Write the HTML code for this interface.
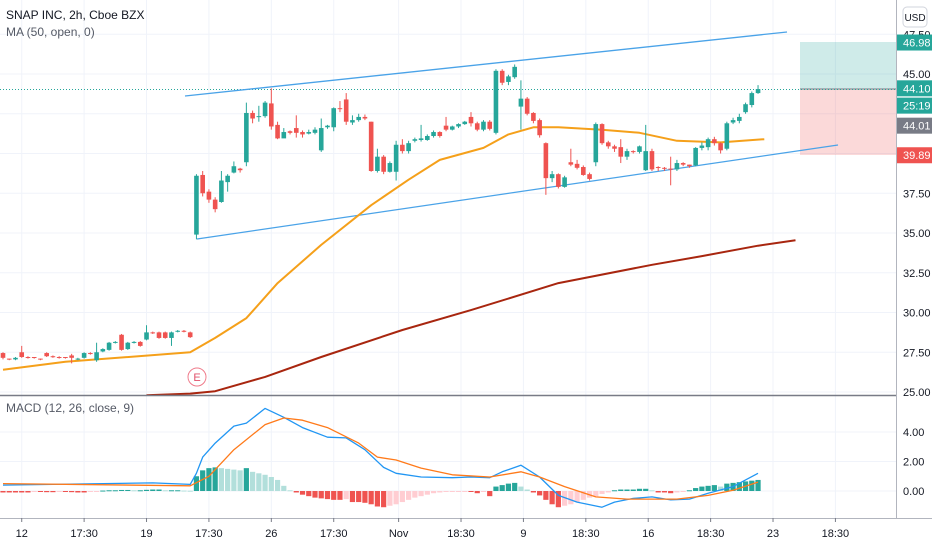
<!DOCTYPE html>
<html><head><meta charset="utf-8">
<style>
html,body{margin:0;padding:0;background:#fff;}
svg{display:block;font-family:"Liberation Sans",sans-serif;}
</style></head>
<body>
<svg id="chart" width="932" height="550" viewBox="0 0 932 550" xmlns="http://www.w3.org/2000/svg">
  <rect x="0" y="0" width="932" height="550" fill="#ffffff"/>
  <g id="grid"></g>
  <g id="panels">
    <rect x="800" y="42" width="96" height="47" fill="#26a69a" fill-opacity="0.22"/>
    <rect x="800" y="89" width="96" height="66" fill="#ef5350" fill-opacity="0.22"/>
    <line x1="800" y1="89" x2="896" y2="89" stroke="#787b86" stroke-width="1"/>
  </g>
  <line x1="0" y1="89.5" x2="896" y2="89.5" stroke="#26a69a" stroke-dasharray="1,2"/>
  <g id="channel">
    <line x1="185" y1="96" x2="787" y2="32" stroke="#4aa3e8" stroke-width="1.3"/>
    <line x1="197" y1="239" x2="838" y2="145" stroke="#4aa3e8" stroke-width="1.3"/>
  </g>
  <defs><clipPath id="mainClip"><rect x="0" y="0" width="896" height="395"/></clipPath></defs>
  <g id="mas" clip-path="url(#mainClip)"></g>
  <g id="candles"></g>
  <g>
    <circle cx="197" cy="377" r="9" fill="#fff" stroke="#ef7a8a" stroke-width="1"/>
    <text x="197" y="381" font-size="11" fill="#e0506a" text-anchor="middle">E</text>
  </g>
  <g id="macd"></g>
  <line x1="0" y1="395.5" x2="896" y2="395.5" stroke="#787b86" stroke-width="1.5"/>
  <line x1="0" y1="518.5" x2="932" y2="518.5" stroke="#b2b5be" stroke-width="1"/>
  <line x1="896.5" y1="0" x2="896.5" y2="518" stroke="#b2b5be" stroke-width="1"/>
  <g id="axes"></g>
  <g>
    <text x="6" y="19" font-size="12" fill="#131722">SNAP INC, 2h, Cboe BZX</text>
    <text x="6" y="36" font-size="12" fill="#555a66">MA (50, open, 0)</text>
    <text x="6" y="412" font-size="12" fill="#555a66">MACD (12, 26, close, 9)</text>
  </g>
  <g>
    <rect x="903" y="7" width="24" height="20" rx="4" fill="#fff" stroke="#d1d4dc"/>
    <text x="915" y="21" font-size="10" fill="#131722" text-anchor="middle">USD</text>
  </g>
  <g id="badges"></g>
</svg>
<script>
const opens=[27.45,27.1,27.05,27.5,27.2,27.2,27.1,27.45,27.25,27.2,27.2,27.3,27.05,27.15,27.45,27.0,27.55,27.65,28.1,28.6,27.7,28.1,28.15,28.3,28.75,28.75,28.75,28.4,28.8,28.85,28.75,
34.9,38.65,37.6,37.1,36.95,38.2,38.8,39.05,39.45,42.55,42.3,42.35,43.15,41.8,40.95,41.4,41.6,41.35,41.25,41.3,40.2,41.65,41.65,42.85,43.4,41.95,42.1,42.3,42.0,38.9,
39.8,38.85,38.85,40.55,40.15,40.8,40.85,40.85,41.1,41.35,41.75,41.5,41.7,41.85,42.3,41.9,41.5,42.0,41.3,45.2,44.5,44.8,42.95,43.45,42.55,42.1,40.65,38.45,38.7,37.9,
39.45,39.35,39.15,38.7,39.45,41.85,40.7,40.45,40.4,39.8,40.15,40.1,38.95,40.15,39.15,39.1,39.05,39.0,39.4,39.3,39.25,40.35,40.4,40.9,40.65,40.3,41.95,42.05,42.6,43.05,43.8];
const closes=[27.15,27.05,27.15,27.2,27.15,27.15,27.05,27.25,27.2,27.15,27.15,27.15,27.1,27.45,27.4,27.5,27.7,28.1,28.15,27.65,28.1,28.15,27.9,28.75,28.7,28.4,28.4,28.75,28.85,28.8,28.45,
38.6,37.5,37.1,36.5,38.3,38.6,39.2,38.95,42.55,42.2,42.35,43.2,41.7,40.95,41.35,41.3,41.3,41.2,41.35,41.5,41.6,41.75,42.85,42.8,42.0,42.1,42.3,42.2,38.9,39.8,
38.85,39.4,40.55,40.15,40.65,40.9,40.95,41.1,41.35,41.1,41.5,41.7,41.85,42.0,41.9,41.5,42.0,41.55,45.2,44.45,44.85,45.45,43.45,42.5,42.05,41.15,38.45,38.7,37.9,38.5,
39.3,39.1,38.65,38.4,41.85,40.65,40.45,40.3,39.8,40.15,40.1,40.45,40.15,39.0,39.1,39.05,39.0,39.4,39.3,39.2,40.35,40.5,40.9,40.65,40.2,41.9,42.1,42.3,43.1,43.8,44.05];
const highs=[27.5,27.1,27.2,27.9,27.25,27.2,27.1,27.5,27.3,27.25,27.2,27.4,27.15,27.5,27.5,28.1,27.75,28.15,28.2,28.65,28.15,28.2,28.2,29.2,28.8,28.8,28.8,28.8,28.9,28.9,28.8,
38.7,38.9,37.75,37.25,38.9,38.7,39.5,39.1,43.2,42.7,43.0,43.3,44.1,42.0,41.6,41.45,42.4,41.45,41.5,41.65,42.2,41.8,42.9,43.3,43.8,42.4,42.5,42.45,42.0,40.3,
39.9,39.5,40.8,40.9,40.8,41.0,41.8,41.2,41.45,41.4,42.3,41.75,41.9,42.05,42.6,42.0,42.1,42.1,45.3,45.3,44.95,45.6,44.6,43.55,42.6,42.2,40.7,38.9,38.75,38.6,
40.3,39.6,39.25,38.8,41.95,41.9,40.8,40.55,40.9,40.3,40.2,40.5,41.8,40.3,39.2,39.15,39.8,39.6,39.45,39.3,40.4,40.7,41.0,41.05,40.7,42.0,42.25,42.5,43.2,43.9,44.3];
const lows=[27.05,27.0,27.0,27.15,27.1,27.1,27.0,27.2,27.15,27.1,27.1,26.8,27.0,27.1,27.35,26.9,27.5,27.6,28.05,27.6,27.65,28.05,27.85,28.25,28.65,28.35,28.35,27.9,28.75,28.75,28.4,
34.6,37.3,36.9,36.3,36.9,37.6,38.75,38.8,39.2,41.9,42.0,42.25,41.5,40.9,41.2,41.2,41.0,41.0,41.2,41.2,40.1,41.55,41.4,42.6,41.8,41.8,42.0,42.1,38.85,38.8,
38.7,38.8,38.3,40.0,40.0,40.7,40.75,40.8,41.0,41.0,41.4,41.45,41.6,41.8,41.7,41.4,41.4,41.45,41.2,44.3,44.3,44.7,41.5,42.4,41.9,41.0,37.4,38.2,37.8,37.85,
39.2,39.0,38.6,38.3,39.2,40.55,40.3,40.1,39.4,39.6,40.0,40.0,38.9,38.9,38.9,38.9,38.0,38.9,39.2,39.1,39.2,40.2,40.2,40.5,40.0,40.2,41.85,41.9,42.5,42.9,43.75];
const ma50Idx=[0,10,30,34,39,44,51,59,65,70,77,81,85,89,96,102,108,115,122];
const ma50Val=[26.4,26.9,27.5,28.4,29.65,31.85,34.25,36.75,38.35,39.6,40.35,41.2,41.65,41.65,41.5,41.3,40.8,40.7,40.9];
const ma200Idx=[23,30,34,42,51,64,75,89,104,112,121,127];
const ma200Val=[24.8,24.9,25.05,25.95,27.2,28.9,30.15,31.85,33.0,33.55,34.2,34.55];
const histVals=[-0.1,-0.1,-0.1,-0.1,-0.1,-0.05,-0.05,-0.08,-0.08,-0.05,-0.05,-0.08,-0.1,-0.1,-0.05,-0.03,0.03,0.05,0.05,0.07,0.07,0.05,0.05,0.08,0.1,0.1,0.05,0.05,0.05,0.03,0.02,
1.0,1.4,1.55,1.6,1.55,1.5,1.45,1.4,1.55,1.3,1.2,1.1,0.95,0.75,0.35,0.05,-0.1,-0.25,-0.35,-0.45,-0.5,-0.55,-0.6,-0.6,-0.55,-0.75,-0.75,-0.8,-0.9,-1.05,
-1.1,-1.0,-0.9,-0.75,-0.6,-0.45,-0.35,-0.25,-0.15,-0.1,-0.06,-0.04,-0.03,-0.02,-0.02,-0.15,-0.03,-0.35,0.3,0.4,0.5,0.55,0.3,0.1,-0.1,-0.3,-0.6,-0.9,-1.1,-1.0,
-0.9,-0.75,-0.6,-0.45,-0.35,-0.2,-0.1,0.05,0.1,0.1,0.1,0.15,0.15,0.05,-0.1,-0.1,-0.15,-0.1,-0.02,0.05,0.2,0.3,0.35,0.4,0.3,0.5,0.55,0.6,0.65,0.7,0.75];
const macdIdx=[0,24,30,31,32,34,37,39,42,45,48,52,55,58,61,63,67,72,75,78,80,83,86,89,92,96,98,101,104,107,110,113,117,121];
const macdVal=[0.4,0.55,0.45,1.2,2.3,3.25,4.4,4.6,5.6,5.0,4.3,3.65,3.6,2.8,1.6,1.2,0.95,0.9,0.95,0.9,1.3,1.75,0.95,-0.3,-0.75,-1.1,-0.75,-0.5,-0.4,-0.6,-0.55,-0.15,0.3,1.2];
const sigIdx=[0,30,33,37,42,45,48,52,57,60,63,67,72,78,83,86,90,95,100,108,113,117,121];
const sigVal=[0.5,0.35,1.0,2.8,4.5,4.95,4.8,4.3,3.25,2.3,2.1,1.55,1.1,0.95,1.3,0.95,0.3,-0.4,-0.55,-0.55,-0.3,0.05,0.6];
const priceTicks=[47.5,45,42.5,40,37.5,35,32.5,30,27.5,25];
const priceTickLabels=["47.50","45.00","","","37.50","35.00","32.50","30.00","27.50","25.00"];
const macdTicks=[4,2,0];
const macdTickLabels=["4.00","2.00","0.00"];
const timeLabels=["12","17:30","19","17:30","26","17:30","Nov","18:30","9","18:30","16","18:30","23","18:30"];
const timeIdx=[3,13,23,33,43,53,63,73,83,93,103,113,123,133];
const badgePrices=[46.98,44.10,43.01,41.75,39.89];
const badgeTexts=["46.98","44.10","25:19","44.01","39.89"];
const badgeColors=["#26a69a","#26a69a","#26a69a","#787b86","#ef5350"];

const NS="http://www.w3.org/2000/svg";
function xS(i){return 3+6.24*i;}
function yP(p){return 74+(45-p)*15.9;}
function yM(v){return 491-v*14.75;}
function mk(tag,attrs,parent){const e=document.createElementNS(NS,tag);for(const k in attrs)e.setAttribute(k,attrs[k]);parent.appendChild(e);return e;}

const grid=document.getElementById('grid');
priceTicks.forEach(p=>{const l=mk('line',{x1:0,x2:896,y1:yP(p),y2:yP(p),stroke:'#f0f3fa'},grid);

});
macdTicks.forEach(v=>{const l=mk('line',{x1:0,x2:896,y1:yM(v),y2:yM(v),stroke:'#f0f3fa'},grid);

});
timeIdx.forEach(i=>{const x=xS(i)+(i>=63?2.5:0)-(i<33?0:0);const l=mk('line',{x1:x,x2:x,y1:0,y2:518,stroke:'#f0f3fa'},grid);

});

const cg=document.getElementById('candles');
opens.forEach((o,i)=>{const c=closes[i];const up=c>=o;const col=up?'#26a69a':'#ef5350';const x=xS(i);
const w=mk('line',{x1:x,x2:x,y1:yP(highs[i]),y2:yP(lows[i]),stroke:col,'stroke-width':1},cg);


const t=yP(Math.max(o,c)),b=yP(Math.min(o,c));
const r=mk('rect',{x:x-2.3,y:t,width:4.6,height:Math.max(1,b-t),fill:col},cg);

});

const mg=document.getElementById('mas');
function line(idx,val,ys,col,wd,parent,name){const d=idx.map((i,k)=>(k?'L':'M')+xS(i).toFixed(1)+','+ys(val[k]).toFixed(1)).join(' ');
const p=mk('path',{d:d,fill:'none',stroke:col,'stroke-width':wd,'stroke-linejoin':'round'},parent);

}
line(ma50Idx,ma50Val,yP,'#f5a01a',2,mg,'ma50-line');
line(ma200Idx,ma200Val,yP,'#a8260f',2,mg,'ma200-line');

const mcg=document.getElementById('macd');
histVals.forEach((v,i)=>{const prev=i?histVals[i-1]:v;let col;
if(v>=0)col=v>=prev?'#26a69a':'#b2dfdb';else col=v<=prev?'#ef5350':'#ffcdd2';
const y0=yM(0),y1=yM(v);
const r=mk('rect',{x:xS(i)-2.6,y:Math.min(y0,y1),width:5.2,height:Math.max(1,Math.abs(y1-y0)),fill:col},mcg);

});
line(macdIdx,macdVal,yM,'#2196f3',1.3,mcg,'macd-line');
line(sigIdx,sigVal,yM,'#ff7a1a',1.3,mcg,'signal-line');

const ax=document.getElementById('axes');
priceTicks.forEach((p,k)=>{if(!priceTickLabels[k])return;
const t=mk('text',{x:903,y:yP(p)+4,'font-size':11,fill:'#131722'},ax);t.textContent=priceTickLabels[k];

});
macdTicks.forEach((v,k)=>{const t=mk('text',{x:903,y:yM(v)+4,'font-size':11,fill:'#131722'},ax);t.textContent=macdTickLabels[k];

});
timeLabels.forEach((s,k)=>{const x=xS(timeIdx[k])+(timeIdx[k]>=63?2.5:0);
const tk=mk('line',{x1:x,x2:x,y1:518,y2:522,stroke:'#787b86'},ax);


const t=mk('text',{x:x,y:537,'font-size':11,fill:'#131722','text-anchor':'middle'},ax);t.textContent=s;

});

const bg=document.getElementById('badges');
badgePrices.forEach((p,k)=>{const y=yP(p);
const r=mk('rect',{x:897,y:y-8,width:35,height:16,fill:badgeColors[k]},bg);


const t=mk('text',{x:903,y:y+4,'font-size':11,fill:'#ffffff'},bg);t.textContent=badgeTexts[k];

});
</script>
</body></html>
